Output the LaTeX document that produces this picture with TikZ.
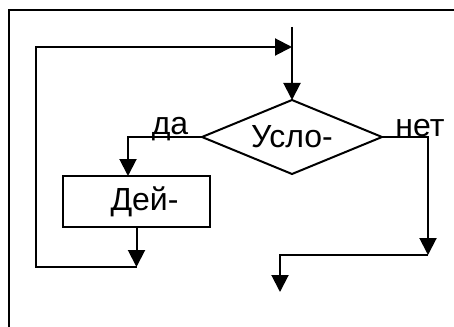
\documentclass[tikz,border=0pt]{standalone}
\usepackage{fontspec}
\setmainfont{Liberation Sans}
\usetikzlibrary{arrows.meta,shapes.geometric,positioning}

\begin{document}
\begin{tikzpicture}[
  x=0.5pt,y=-0.5pt,
  font=\fontsize{16}{19}\selectfont,
  >={Triangle[length=8.5pt,width=8.5pt]},
  line/.style={line width=1pt},
  flow/.style={line,->},
  decision/.style={diamond,draw,line width=1pt,inner sep=0pt,outer sep=0pt,
                   aspect=2.43,minimum width=90pt,minimum height=37pt},
  action/.style={rectangle,draw,line width=1pt,inner sep=0pt,outer sep=0pt,
                 minimum width=73.5pt,minimum height=25.5pt},
  tag/.style={anchor=base,inner sep=0pt},
]
\useasboundingbox (0,0) rectangle (454,326);

% frame, cut off at the right and bottom
\draw[line] (9,340) |- (470,10);

% blocks
\node[decision] (cond) at (292,137) {\raisebox{-1pt}{Усло-}};
\node[action]   (act)  at (136.5,201.5) {\hspace{8pt}Дей-};

% branch labels
\node[tag] (yes) at (170,134) {да};
\node[tag] (no)  at (420,136) {нет};

% free ends of the connectors
\coordinate (entry) at (292,27);
\coordinate (merge) at (292,47);
\coordinate (loopL) at (36,267);
\coordinate (exitR) at (428,255);
\coordinate (exit)  at (280,292);

% flow
\draw[flow] (entry) -- (cond.north);
\draw[flow] (cond.west) -| ([xshift=-4.25pt]act.north);
\draw[flow] (act.south) -- (act.south |- loopL);
\draw[flow] (act.south |- loopL) -- (loopL) |- (merge);
\draw[flow] (cond.east) -| (exitR);
\draw[flow] (exitR) -| (exit);

\end{tikzpicture}
\end{document}
